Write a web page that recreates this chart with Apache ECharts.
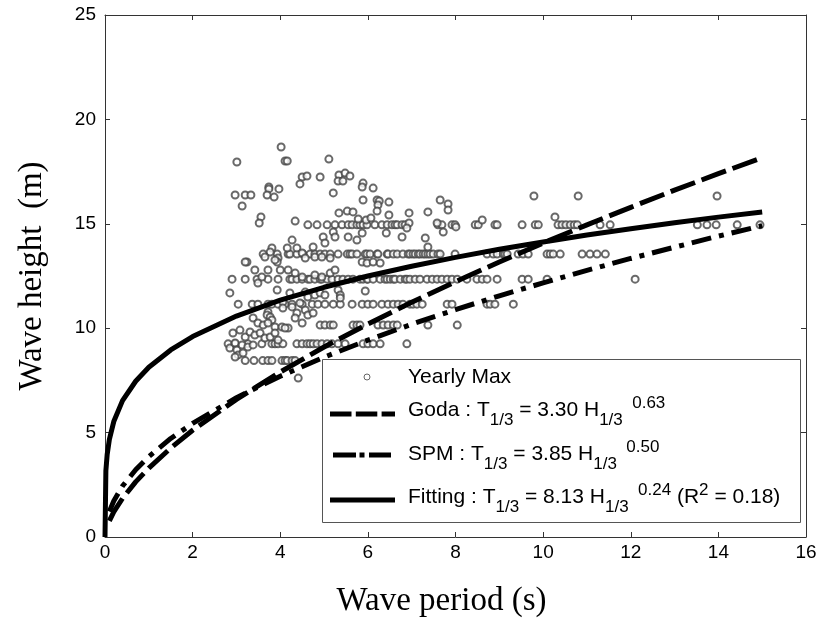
<!DOCTYPE html>
<html>
<head>
<meta charset="utf-8">
<script src="https://cdn.jsdelivr.net/npm/echarts@6/dist/echarts.min.js"></script>
<style>
  html, body { margin: 0; background: #fff; }
  #main { width: 821px; height: 626px; }
</style>
</head>
<body>
<div id="main"></div>
<script>
const bandHeights = [14.95, 13.55, 12.35, 11.15, 10.15, 9.25, 8.45];
const bandPeriods = [
  [4.63,4.84,5.07,5.25,5.41,5.55,5.64,5.75,5.82,5.89,5.98,6.16,6.32,6.44,6.55,6.62,6.67,6.78,6.85,7.60,7.69,7.92,7.99,8.45,8.52,8.90,8.95,9.52,9.82,9.89,10.34,10.43,10.52,10.62,10.71,10.78,11.30,11.53,13.52,13.74,13.95,14.43,14.95],
  [3.61,3.93,4.18,4.22,4.38,4.52,4.68,4.79,4.91,5.02,5.14,5.32,5.53,5.59,5.64,5.75,5.94,5.98,6.05,6.21,6.23,6.44,6.46,6.58,6.67,6.80,6.92,6.96,7.03,7.08,7.15,7.19,7.26,7.31,7.37,7.42,7.49,7.60,7.65,7.99,8.72,8.86,8.95,9.09,9.13,9.18,9.43,9.54,9.66,10.09,10.16,10.23,10.39,10.89,11.07,11.23,11.42],
  [2.90,3.20,3.47,3.72,3.95,4.22,4.27,4.38,4.50,4.63,4.68,4.79,4.91,4.95,5.07,5.18,5.32,5.43,5.55,5.66,5.82,5.89,5.98,6.00,6.12,6.28,6.39,6.44,6.51,6.58,6.62,6.74,6.85,6.89,6.96,7.08,7.19,7.35,7.47,7.58,7.69,7.81,7.92,8.04,8.26,8.49,8.61,8.72,8.95,9.52,9.66,10.09,12.10],
  [3.04,3.36,3.49,3.72,3.81,3.95,4.11,4.27,4.50,4.73,4.86,5.02,5.21,5.37,5.64,5.87,6.00,6.12,6.32,6.46,6.58,6.69,6.80,6.96,7.03,7.12,7.24,7.81,7.92,8.72,8.79,8.90,9.32],
  [4.91,5.02,5.14,5.21,5.66,5.75,5.82,6.23,6.35,6.46,6.58,6.67,7.37,8.04],
  [2.81,2.97,3.26,3.58,3.81,3.88,3.95,4.06,4.38,4.50,4.61,4.68,4.75,4.84,4.95,5.07,5.18,5.32,5.48,5.89,6.00,6.12,6.28,6.89],
  [3.20,3.40,3.60,3.72,3.81,4.04,4.11,4.16,4.27,4.34]
];
// the ones that sit off the bands [period, height]
const loosePoints = [
  [4.02,18.68],[5.11,18.10],[3.01,17.96],[4.11,18.01],[4.16,18.01],
  [4.50,17.24],[4.61,17.29],[4.91,17.24],[5.34,17.34],[5.48,17.43],[5.59,17.29],[5.32,17.05],[5.43,17.05],
  [4.45,16.91],[3.74,16.76],[3.74,16.67],[3.97,16.67],[3.70,16.38],[3.86,16.28],
  [2.97,16.38],[3.20,16.38],[3.33,16.38],[3.13,15.85],[5.21,16.48],
  [5.89,16.95],[5.87,16.76],[6.12,16.71],[5.89,16.14],[6.21,16.14],[6.26,16.09],[6.48,16.04],[6.23,15.90],[6.21,15.61],
  [5.34,15.52],[5.53,15.61],[5.66,15.57],[3.56,15.33],[3.52,15.04],[4.34,15.13],
  [5.78,15.23],[5.96,15.18],[6.07,15.28],[6.94,15.52],[6.48,15.42],
  [7.65,16.14],[7.83,15.95],[7.83,15.66],[7.37,15.57],[6.94,15.04],[6.89,14.80],[6.42,14.56],[6.78,14.37],[7.31,14.32],[7.37,13.89],
  [7.58,15.04],[7.72,14.61],[8.01,14.85],[8.61,15.18],
  [9.79,16.33],[10.80,16.33],[10.27,15.33],[13.97,16.33],
  [5.21,14.61],[4.98,14.37],[5.25,14.37],[5.55,14.37],[5.75,14.22],[5.87,14.56],[4.27,14.22],
  [4.16,13.84],[4.75,13.89],[5.02,14.08],[3.81,13.84],[3.77,13.65],[4.38,13.84],[4.50,13.60],[4.57,13.36],
  [3.65,13.41],[3.24,13.17],[3.95,13.36],[3.93,13.17],[4.79,13.41],[4.95,13.41],[5.14,13.36],
  [5.87,13.17],[5.98,13.12],[6.12,13.17],[6.28,13.12],
  [3.20,13.17],[3.42,12.79],[3.58,12.45],[3.72,12.79],[3.49,12.16],[3.88,13.27],[4.00,12.79],[4.18,12.79],
  [4.34,12.64],[4.50,12.45],[4.79,12.55],[4.95,12.45],[5.14,12.64],[5.25,12.79],
  [3.93,11.83],[4.22,11.69],[4.57,11.73],[4.63,11.49],[4.79,11.59],[4.91,11.69],[5.02,11.59],[5.32,11.83],
  [5.37,11.59],[5.37,11.45],[5.94,11.78],[2.85,11.69],
  [4.06,11.25],[4.06,10.97],[4.27,11.02],[4.45,11.21],[4.57,10.87],[4.38,10.73],[4.34,10.49],[4.63,10.63],[4.75,10.73],
  [3.72,10.78],[3.70,10.63],[3.77,10.54],[3.81,10.39],[3.38,10.49],[3.49,10.25],[3.61,10.15],[3.72,10.25],
  [3.88,10.06],[4.04,10.06],[4.18,10.01],[4.50,10.25],
  [2.92,9.77],[3.08,9.91],[3.20,9.58],[3.31,9.82],[3.42,9.67],[3.54,9.77],[3.65,9.53],[3.77,9.58],[3.88,9.77],[3.95,9.43],[4.11,10.01],
  [2.85,9.05],[2.97,9.29],[3.01,8.96],[3.13,9.20],[3.26,9.10],[3.38,9.20],[3.04,8.72],[2.97,8.62],[3.15,8.81],
  [4.41,7.61]
];

// curves
const curvePeriods = [0.1,0.2,0.4,0.7,1,1.5,2,3,4,5,6,7,8,9,10,11,12,13,14,15];
const godaHeights  = [0.77,1.20,1.85,2.64,3.30,4.26,5.11,6.59,7.90,9.10,10.20,11.24,12.23,13.17,14.08,14.95,15.79,16.61,17.40,18.17];
const spmHeights   = [1.22,1.72,2.44,3.22,3.85,4.72,5.44,6.67,7.70,8.61,9.43,10.19,10.89,11.55,12.17,12.77,13.34,13.88,14.41,14.91];
const fitPeriods   = [0,0.02,0.05,0.1,0.2,0.4,0.7,1,1.5,2,3,4,5,6,7,8,9,10,11,12,13,14,15];
const fitHeights   = [0,3.18,3.96,4.68,5.53,6.53,7.46,8.13,8.96,9.60,10.58,11.34,11.96,12.50,12.97,13.39,13.78,14.13,14.46,14.76,15.05,15.32,15.57];

const yearlyMax = bandPeriods
  .flatMap((ps, i) => ps.map(t => [t, bandHeights[i]]))
  .concat(loosePoints);
const pairs = (xs, ys) => xs.map((x, i) => [x, ys[i]]);

const chart = echarts.init(document.getElementById('main'));

const frame = {
  type: 'value',
  axisLine: { show: true, onZero: false, lineStyle: { color: '#333', width: 1 } },
  axisTick: { show: true, inside: true, length: 5, lineStyle: { color: '#333' } },
  splitLine: { show: false }
};
const tickFont = { fontFamily: '"Liberation Sans", Arial, sans-serif', fontSize: 19, color: '#000' };
const titleFont = { fontFamily: '"Liberation Serif", "Times New Roman", serif', fontSize: 33, color: '#000' };

// legend box drawn by hand (sub/superscripts)
const ctx = document.createElement('canvas').getContext('2d');
function textRun(parts, x, cy) {
  const items = [];
  parts.forEach(([txt, kind]) => {
    const size = kind === 'n' ? 21 : 17;
    const dy = kind === 'sub' ? 10 : kind === 'sup' ? -7 : 0;
    const fam = '"Liberation Sans", Arial, sans-serif';
    items.push({
      type: 'text', x: x, y: cy + dy, z: 101,
      style: { text: txt, fontSize: size, fontFamily: fam, fill: '#000', align: 'left', verticalAlign: 'middle' }
    });
    ctx.font = size + 'px ' + fam;
    x += ctx.measureText(txt).width;
  });
  return items;
}

const legendGraphics = [
  { type: 'rect', z: 100, shape: { x: 322.5, y: 359.5, width: 478, height: 163 },
    style: { fill: '#fff', stroke: '#555', lineWidth: 1 } },
  { type: 'circle', z: 101, shape: { cx: 367, cy: 377, r: 3 },
    style: { fill: '#fff', stroke: '#666', lineWidth: 1 } },
  { type: 'line', z: 101, shape: { x1: 330, y1: 414, x2: 395, y2: 414 },
    style: { stroke: '#000', lineWidth: 5, lineDash: [21.5, 4.3] } },
  { type: 'line', z: 101, shape: { x1: 333, y1: 455, x2: 391, y2: 455 },
    style: { stroke: '#000', lineWidth: 5, lineDash: [23, 3.5, 5, 4.5] } },
  { type: 'line', z: 101, shape: { x1: 330, y1: 500, x2: 395, y2: 500 },
    style: { stroke: '#000', lineWidth: 5 } }
]
  .concat(textRun([['Yearly Max', 'n']], 408, 377))
  .concat(textRun([['Goda : T', 'n'], ['1/3', 'sub'], [' = 3.30 H', 'n'], ['1/3', 'sub'], ['  0.63', 'sup']], 408, 410))
  .concat(textRun([['SPM : T', 'n'], ['1/3', 'sub'], [' = 3.85 H', 'n'], ['1/3', 'sub'], ['  0.50', 'sup']], 408, 454))
  .concat(textRun([['Fitting : T', 'n'], ['1/3', 'sub'], [' = 8.13 H', 'n'], ['1/3', 'sub'], ['  0.24', 'sup'],
                   [' (R', 'n'], ['2', 'sup'], [' = 0.18)', 'n']], 408, 497));

const option = {
  animation: false,
  backgroundColor: '#fff',
  grid: { left: 105, right: 15, top: 15, bottom: 89, outerBoundsMode: 'none' },
  xAxis: [
    Object.assign({}, frame, {
      position: 'bottom', min: 0, max: 16, interval: 2,
      axisLabel: Object.assign({ margin: 6 }, tickFont),
      name: 'Wave period (s)', nameLocation: 'middle', nameGap: 48,
      nameTextStyle: Object.assign({ padding: [0, 28, 0, 0] }, titleFont)
    }),
    Object.assign({}, frame, { position: 'top', min: 0, max: 16, interval: 2, axisLabel: { show: false } })
  ],
  yAxis: [
    Object.assign({}, frame, {
      position: 'left', min: 0, max: 25, interval: 5,
      axisLabel: Object.assign({ margin: 9 }, tickFont),
      name: 'Wave height  (m)', nameLocation: 'middle', nameGap: 56, nameTextStyle: titleFont
    }),
    Object.assign({}, frame, { position: 'right', min: 0, max: 25, interval: 5, axisLabel: { show: false } })
  ],
  series: [
    {
      name: 'Yearly Max', type: 'scatter', data: yearlyMax,
      symbol: 'emptyCircle', symbolSize: 7,
      itemStyle: { color: '#444', borderColor: '#444', borderWidth: 1 }
    },
    {
      name: 'Goda', type: 'line', data: pairs(curvePeriods, godaHeights),
      symbol: 'none', lineStyle: { color: '#000', width: 5, type: [26, 7] }
    },
    {
      name: 'SPM', type: 'line', data: pairs(curvePeriods, spmHeights),
      symbol: 'none', lineStyle: { color: '#000', width: 5, type: [20, 8, 5, 8] }
    },
    {
      name: 'Fitting', type: 'line', data: pairs(fitPeriods, fitHeights),
      symbol: 'none', lineStyle: { color: '#000', width: 5 }
    }
  ],
  graphic: legendGraphics
};

chart.setOption(option);
</script>
</body>
</html>
